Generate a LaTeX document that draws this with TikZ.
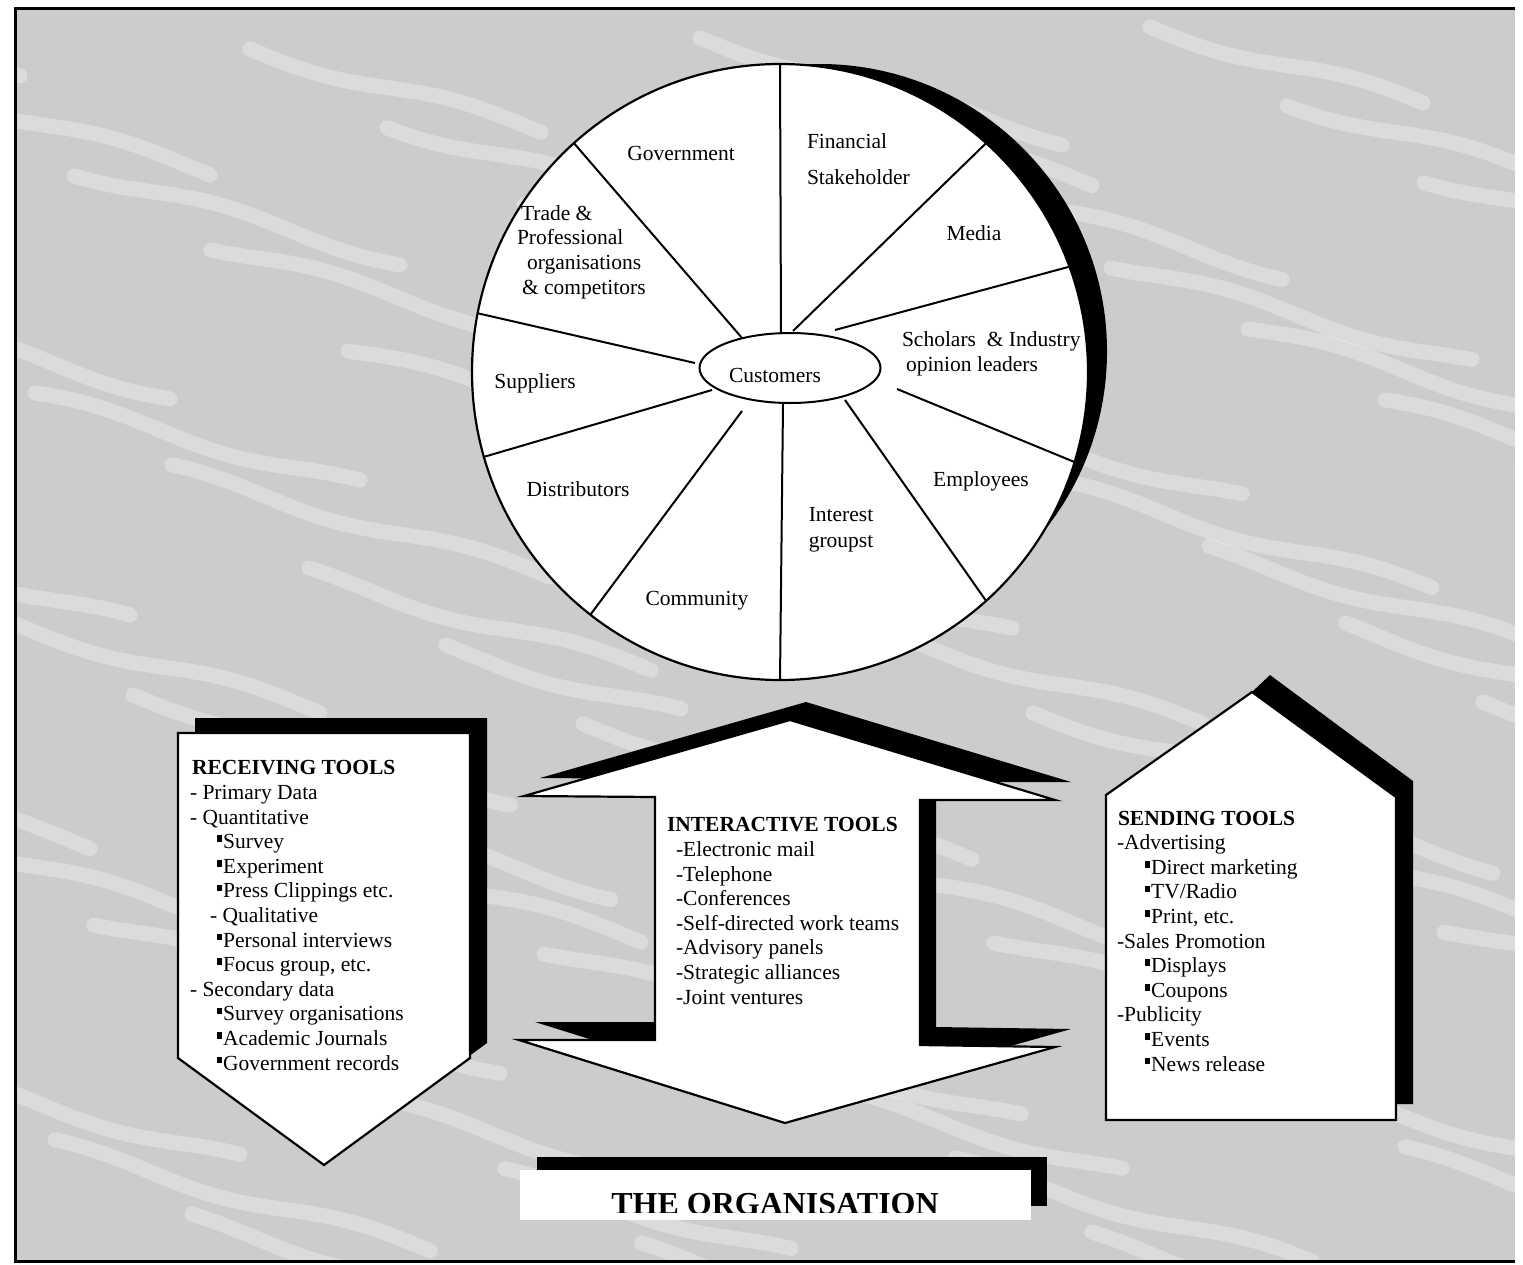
\documentclass[tikz,border=0pt]{standalone}
\usepackage{fontspec}
\setmainfont{Liberation Serif}
\usetikzlibrary{shapes.geometric}
% small square bullet used in the tool lists
\newcommand\sqb{\rule[6.7pt]{4.7pt}{6.6pt}\hspace{1.5pt}}
\begin{document}
\begin{tikzpicture}[x=1pt,y=-1pt,
  every node/.style={font=\fontsize{21.5}{24.6}\selectfont, inner sep=0pt, outer sep=0pt},
  spoke/.style={line width=2pt},
  outline/.style={fill=white, draw=black, line width=2.2pt, line join=miter},
  shadowfill/.style={fill=black},
  listtext/.style={align=left, anchor=base west},
  pie/.style={align=center},
  pieleft/.style={align=left, anchor=west},
  streak/.style={white, opacity=0.3, line width=15pt, line cap=round},
]
\useasboundingbox (0,0) rectangle (1523,1264);
% page and textured panel
\fill[white] (0,0) rectangle (1523,1264);
\fill[black!20] (15,8) rectangle (1515,1261);
\begin{scope}
  \clip (15,8) rectangle (1515,1261);
  \foreach \r in {0,...,16} {
    \foreach \k in {0,...,3} {
      \pgfmathsetmacro\sx{mod(\r*137,450)+\k*450-200}
      \pgfmathsetmacro\sy{20+75*\r+mod(\k*29,40)}
      \pgfmathsetmacro\len{220+mod(\r*53+\k*71,160)}
      \draw[streak] plot[variable=\t, domain=0:\len, samples=25, smooth]
        ({\sx+\t},{\sy+0.28*\t+6*sin(\t*1.3+\r*40)});
    }
  }
\end{scope}
\draw[line width=3pt] (1515,8) -- (15,8) -- (15,1261) -- (1515,1261);

% ---------- stakeholder wheel ----------
\fill[shadowfill] (819.6,351.4) circle (287.4);
\node[circle, outline, minimum size=616] (wheel) at (780,372) {};
\node[ellipse, draw, line width=2pt, minimum width=181, minimum height=70] (cust) at (790,368) {};
\node (custtext) at (775,375) {Customers};

\coordinate (i1) at (781,334);
\coordinate (i2) at (793,331);
\coordinate (i3) at (835,330);
\coordinate (i4) at (897,389);
\coordinate (i5) at (845,400);
\coordinate (i6) at (783,404);
\coordinate (i7) at (742,411);
\coordinate (i8) at (712,390);
\coordinate (i9) at (695,363);
\coordinate (i10) at (742,338);

\draw[spoke] (i1) -- (wheel.90);
\draw[spoke] (i2) -- (wheel.48.1);
\draw[spoke] (i3) -- (wheel.20.7);
\draw[spoke] (i4) -- (wheel.-17.4);
\draw[spoke] (i5) -- (wheel.-48.8);
\draw[spoke] (i6) -- (wheel.-90);
\draw[spoke] (i7) -- (wheel.-128.5);
\draw[spoke] (i8) -- (wheel.-164.3);
\draw[spoke] (i9) -- (wheel.169.4);
\draw[spoke] (i10) -- (wheel.132.2);

\node (gov) at (681,153) {Government};
\node[pieleft] (fin) at (807,159) {Financial\\[11pt]Stakeholder};
\node (media) at (974,233) {Media};
\node[pieleft] (schol) at (902,354) {Scholars\ \ \& Industry\\\hspace*{4pt}opinion leaders};
\node (emp) at (981,481) {Employees};
\node[pie] (interest) at (841,530) {Interest\\[1.5pt]groupst};
\node (comm) at (697,601) {Community};
\node (dist) at (578,489) {Distributors};
\node (supp) at (535,383) {Suppliers};
\node[pieleft] (trade) at (517,252) {\hspace*{4pt}Trade \&\\Professional\\\hspace*{10pt}organisations\\\hspace*{5pt}\& competitors};

% ---------- receiving tools ----------
\fill[shadowfill, shift={(17,-15)}] (178,733) -- (470,733) -- (470,1058) -- (324,1165) -- (178,1058) -- cycle;
\draw[outline] (178,733) -- (470,733) -- (470,1058) -- (324,1165) -- (178,1058) -- cycle;
\node[listtext] (recv) at (190,1070) {\hspace*{2pt}\textbf{RECEIVING TOOLS}\\
- Primary Data\\
- Quantitative\\
\hspace*{27pt}\sqb Survey\\
\hspace*{27pt}\sqb Experiment\\
\hspace*{27pt}\sqb Press Clippings etc.\\
\hspace*{20pt}- Qualitative\\
\hspace*{27pt}\sqb Personal interviews\\
\hspace*{27pt}\sqb Focus group, etc.\\
- Secondary data\\
\hspace*{27pt}\sqb Survey organisations\\
\hspace*{27pt}\sqb Academic Journals\\
\hspace*{27pt}\sqb Government records};

% ---------- interactive tools ----------
\fill[shadowfill, shift={(16,-18)}] (790,720) -- (1055,800) -- (920,800) -- (920,1045) -- (1055,1047) -- (785,1123) -- (519,1040) -- (655,1040) -- (655,797) -- (524,796) -- cycle;
\draw[outline] (790,720) -- (1055,800) -- (920,800) -- (920,1045) -- (1055,1047) -- (785,1123) -- (519,1040) -- (655,1040) -- (655,797) -- (524,796) -- cycle;
\node[listtext] (inter) at (667,1004) {\textbf{INTERACTIVE TOOLS}\\
\hspace*{9pt}-Electronic mail\\
\hspace*{9pt}-Telephone\\
\hspace*{9pt}-Conferences\\
\hspace*{9pt}-Self-directed work teams\\
\hspace*{9pt}-Advisory panels\\
\hspace*{9pt}-Strategic alliances\\
\hspace*{9pt}-Joint ventures};

% ---------- sending tools ----------
\fill[shadowfill] (1252,692) -- (1270,675) -- (1413,781) -- (1413,1104) -- (1396,1104) -- (1396,797) -- cycle;
\draw[outline] (1106,1120) -- (1106,795) -- (1252,692) -- (1396,797) -- (1396,1120) -- cycle;
\node[listtext] (send) at (1117,1071) {\hspace*{1pt}\textbf{SENDING TOOLS}\\
-Advertising\\
\hspace*{28pt}\sqb Direct marketing\\
\hspace*{28pt}\sqb TV/Radio\\
\hspace*{28pt}\sqb Print, etc.\\
-Sales Promotion\\
\hspace*{28pt}\sqb Displays\\
\hspace*{28pt}\sqb Coupons\\
-Publicity\\
\hspace*{28pt}\sqb Events\\
\hspace*{28pt}\sqb News release};

% ---------- the organisation ----------
\fill[shadowfill] (537,1157) rectangle (1047,1206);
\fill[white] (520,1170) rectangle (1031,1220);
\begin{scope}
\clip (520,1170) rectangle (1031,1212);
\node[font=\bfseries\fontsize{32}{36}\selectfont, anchor=base] (org) at (775,1214) {THE ORGANISATION};
\end{scope}
\end{tikzpicture}
\end{document}
